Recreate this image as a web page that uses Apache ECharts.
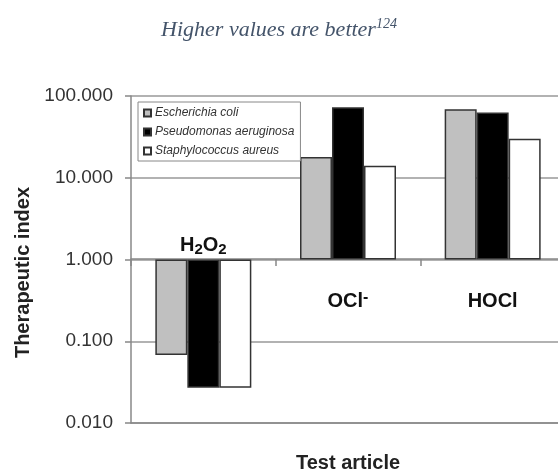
<!DOCTYPE html>
<html lang="en">
<head>
    <meta charset="UTF-8">
    <title>Therapeutic index</title>
    <script src="https://cdn.jsdelivr.net/npm/echarts@6/dist/echarts.min.js"></script>
    <style>html, body { margin: 0; padding: 0; background: #fff; }</style>
</head>
<body>
    <div id="main" style="width: 558px;height: 472px"></div>
    <script type="text/javascript">
        // 数据
        var categories = ['H2O2', 'OCl-', 'HOCl'];
        var seriesNames = ['Escherichia coli', 'Pseudomonas aeruginosa', 'Staphylococcus aureus'];
        var ecoli = [0.068, 18, 69];
        var paeruginosa = [0.027, 73, 63];
        var saureus = [0.027, 14, 30];
        var yTicks = [0.01, 0.1, 1, 10, 100];

        var sans = '"Liberation Sans", Arial, sans-serif';
        var myChart = echarts.init(document.getElementById('main'));

        var barStyle = function (color) {
            return { color: color, borderColor: '#333', borderWidth: 1.5 };
        };

        var option = {
            animation: false,
            backgroundColor: '#fff',
            title: {
                text: 'Higher values are better{s|124}',
                left: 'center',
                top: 12,
                textStyle: {
                    fontFamily: '"Liberation Serif", "Times New Roman", serif',
                    fontStyle: 'italic',
                    fontWeight: 'normal',
                    fontSize: 22,
                    color: '#44546a',
                    lineHeight: 26,
                    rich: {
                        s: {
                            fontFamily: '"Liberation Serif", "Times New Roman", serif',
                            fontStyle: 'italic',
                            fontSize: 14,
                            color: '#44546a',
                            verticalAlign: 'top',
                            lineHeight: 26
                        }
                    }
                }
            },
            legend: {
                orient: 'vertical',
                left: 138,
                top: 102,
                padding: [5, 6, 4, 5],
                itemGap: 7,
                itemWidth: 7,
                itemHeight: 7,
                icon: 'rect',
                backgroundColor: '#fff',
                borderColor: '#888',
                borderWidth: 1,
                textStyle: { fontFamily: sans, fontStyle: 'italic', fontSize: 12, color: '#333', padding: [0, 0, 0, -1] },
                data: seriesNames
            },
            grid: { left: 131, right: -7, top: 96, bottom: 49, outerBoundsMode: 'none', containLabel: false },
            xAxis: [{
                type: 'category',
                data: categories,
                position: 'top',
                offset: -163,
                axisLine: { show: true, lineStyle: { color: '#888', width: 1.5 } },
                axisTick: { show: true, inside: true, length: 7, lineStyle: { color: '#888', width: 1.5 } },
                axisLabel: { show: false },
                splitLine: { show: false }
            }, {
                type: 'category',
                data: categories,
                position: 'bottom',
                axisLine: { show: true, lineStyle: { color: '#888', width: 1.5 } },
                axisTick: { show: false },
                axisLabel: { show: false },
                name: 'Test article',
                nameLocation: 'middle',
                nameGap: 30,
                nameTextStyle: { fontFamily: sans, fontWeight: 'bold', fontSize: 20, color: '#222' }
            }],
            yAxis: {
                type: 'log',
                logBase: 10,
                min: yTicks[0],
                max: yTicks[yTicks.length - 1],
                name: 'Therapeutic index',
                nameLocation: 'middle',
                nameGap: 98,
                nameTextStyle: { fontFamily: sans, fontWeight: 'bold', fontSize: 20, color: '#222', padding: [0, 26, 0, 0] },
                axisLine: { show: true, lineStyle: { color: '#888', width: 1.5 } },
                axisTick: { show: true, length: 6, lineStyle: { color: '#888', width: 1.5 } },
                axisLabel: {
                    margin: 18,
                    fontFamily: sans,
                    fontSize: 19,
                    color: '#333',
                    formatter: function (v) { return Number(v).toFixed(3); }
                },
                splitLine: { show: true, lineStyle: { color: '#999', width: 1.5 } },
                minorTick: { show: false }
            },
            series: [{
                name: seriesNames[0],
                type: 'bar',
                xAxisIndex: 0,
                barWidth: 32,
                barGap: '0%',
                itemStyle: barStyle('#c0c0c0'),
                data: ecoli
            }, {
                name: seriesNames[1],
                type: 'bar',
                xAxisIndex: 0,
                barWidth: 32,
                barGap: '0%',
                itemStyle: barStyle('#000'),
                data: paeruginosa
            }, {
                name: seriesNames[2],
                type: 'bar',
                xAxisIndex: 0,
                barWidth: 32,
                barGap: '0%',
                itemStyle: barStyle('#fff'),
                data: saureus
            }]
        };
        myChart.setOption(option);

        // 类别标签（化学式），位置由坐标轴换算
        var labelText = {
            'H2O2': '{b|H}{sub|2}{b|O}{sub|2}',
            'OCl-': '{b|OCl}{sup|-}',
            'HOCl': '{b|HOCl}'
        };
        var labelShift = { 'H2O2': -14, 'OCl-': 42, 'HOCl': 42 };
        var rich = {
            b: { fontFamily: sans, fontWeight: 'bold', fontSize: 20, fill: '#111', lineHeight: 24 },
            sub: { fontFamily: sans, fontWeight: 'bold', fontSize: 15, fill: '#111', verticalAlign: 'bottom', lineHeight: 24 },
            sup: { fontFamily: sans, fontWeight: 'bold', fontSize: 16, fill: '#111', verticalAlign: 'top', lineHeight: 24 }
        };
        var graphics = categories.map(function (c) {
            var p = myChart.convertToPixel({ xAxisIndex: 0, yAxisIndex: 0 }, [c, 1]);
            return {
                type: 'text',
                x: p[0],
                y: p[1] + labelShift[c],
                style: { text: labelText[c], rich: rich, align: 'center', verticalAlign: 'middle' }
            };
        });
        myChart.setOption({ graphic: graphics });

        window.addEventListener('resize', function () {
            myChart.resize();
        });
    </script>
</body>
</html>
